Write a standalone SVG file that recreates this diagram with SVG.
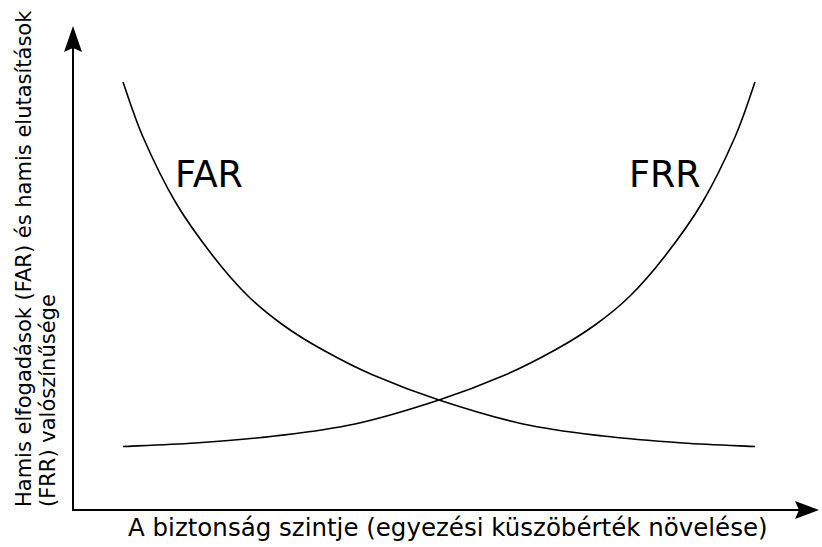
<svg xmlns="http://www.w3.org/2000/svg" width="822" height="547" viewBox="0 0 822 547">
  <style>
    .axis { fill: none; stroke: #000; stroke-width: 2; }
    .curve { fill: none; stroke: #000; stroke-width: 1.6; }
    .head { fill: #000; stroke: none; }
    .lbl { font-family: "DejaVu Sans", Verdana, sans-serif; font-size: 21px; fill: #000; }
    .xlbl { font-family: "DejaVu Sans", Verdana, sans-serif; font-size: 24.5px; fill: #000; }
    .big { font-family: "DejaVu Sans", Verdana, sans-serif; font-size: 36.5px; fill: #000; }
  </style>
  <defs>
    <path id="far-shape" d="M123,82 C126.3,91.2 134.2,116.8 143,137 C151.8,157.2 164.3,183.2 176,203 C187.7,222.8 201,240.5 213,256 C225,271.5 236.3,284.5 248,296 C259.7,307.5 270.5,316 283,325 C295.5,334 308,341.7 323,350 C338,358.3 353.7,366.7 373,375 C392.3,383.3 414,391.8 439,400 C464,408.2 495.7,418 523,424 C550.3,430 576.3,432.8 603,436 C629.7,439.2 657.7,441.25 683,443 C708.3,444.75 743,445.9 755,446.5"/>
  </defs>
  <rect width="822" height="547" fill="#fff"/>

  <!-- axes with arrowheads -->
  <g id="axes">
    <path class="axis" d="M73,48 V510 H800"/>
    <path class="head" d="M73,26 L82,52 L73,48 L64,52 Z"/>
    <path class="head" d="M819,510 L795,519 L799,510 L795,501 Z"/>
  </g>

  <!-- the two rate curves, FRR is the mirror image of FAR -->
  <g id="connectors">
    <use id="far-curve" href="#far-shape" class="curve"/>
    <use id="frr-curve" href="#far-shape" class="curve" transform="translate(878,0) scale(-1,1)"/>
  </g>

  <g id="far-label">
    <text class="big" x="175" y="187">FAR</text>
  </g>
  <g id="frr-label">
    <text class="big" x="629" y="187">FRR</text>
  </g>

  <g id="x-title">
    <text class="xlbl" x="128" y="536">A biztonság szintje (egyezési küszöbérték növelése)</text>
  </g>
  <g id="y-title">
    <text class="lbl" transform="translate(31,507) rotate(-90)">Hamis elfogadások (FAR) és hamis elutasítások</text>
    <text class="lbl" transform="translate(55,507) rotate(-90)">(FRR) valószínűsége</text>
  </g>
</svg>
